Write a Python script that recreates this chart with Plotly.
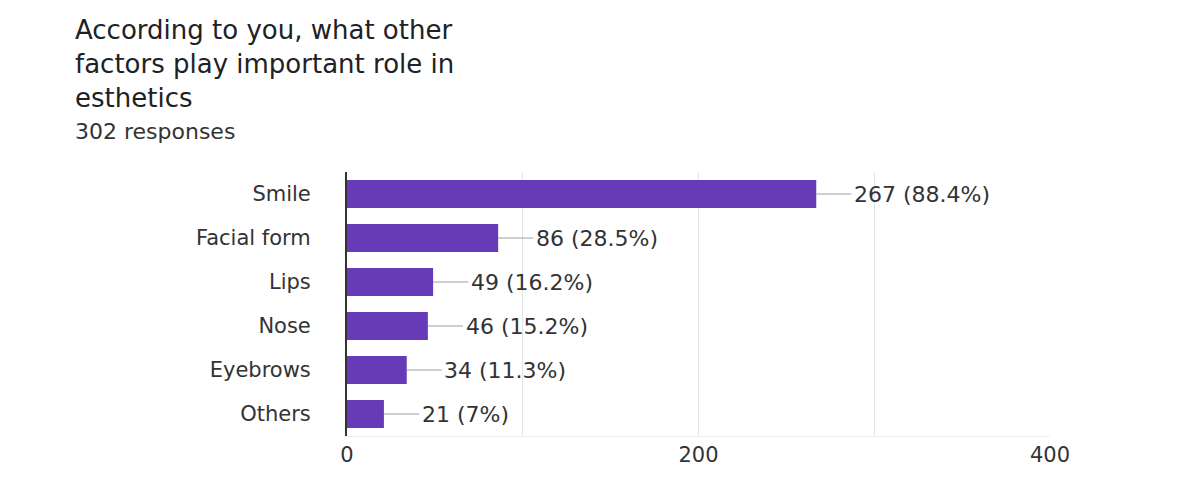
import plotly.graph_objects as go

categories = ["Smile", "Facial form", "Lips", "Nose", "Eyebrows", "Others"]
counts = [267, 86, 49, 46, 34, 21]
percent_labels = ["88.4%", "28.5%", "16.2%", "15.2%", "11.3%", "7%"]
title_lines = ["According to you, what other", "factors play important role in", "esthetics"]
subtitle = "302 responses"
tick_values = [0, 200, 400]

BAR_COLOR = "#673ab7"
TEXT_COLOR = "#333333"
FONT = "DejaVu Sans"

W, H = 1178, 496
OFF = 8  # page body margin
L, T = 347 - OFF, 172 - OFF
pw, ph = 703, 264
R, B = W - L - pw, H - T - ph


def px_x(x):
    return (x - OFF - L) / pw


def px_y(y):
    return 1 - (y - OFF - T) / ph


fig = go.Figure()
fig.add_trace(go.Bar(
    x=counts, y=categories, orientation="h",
    marker=dict(color=BAR_COLOR, line=dict(width=0)),
    width=0.64, hoverinfo="skip",
))

LEAD = 20  # leader-line length in data units
for cat, v, p in zip(categories, counts, percent_labels):
    fig.add_shape(type="line", xref="x", yref="y", x0=v, x1=v + LEAD, y0=cat, y1=cat,
                  line=dict(color="#9e9e9e", width=1))
    fig.add_annotation(x=v + LEAD + 0.3, y=cat, xref="x", yref="y", text=f"{v} ({p})",
                       showarrow=False, xanchor="left", yanchor="middle",
                       font=dict(family=FONT, size=22, color=TEXT_COLOR))

fig.add_annotation(x=px_x(73), y=px_y(64), xref="paper", yref="paper",
                   text="<br>".join(title_lines), align="left",
                   showarrow=False, xanchor="left", yanchor="middle",
                   font=dict(family=FONT, size=26, color="#202124"))
fig.add_annotation(x=px_x(73), y=px_y(131), xref="paper", yref="paper", text=subtitle,
                   showarrow=False, xanchor="left", yanchor="middle",
                   font=dict(family=FONT, size=22, color="#333333"))

fig.update_layout(
    width=W, height=H,
    margin=dict(l=L, r=R, t=T, b=B),
    paper_bgcolor="white", plot_bgcolor="white",
    showlegend=False,
)
fig.update_xaxes(
    range=[0, 400], tickvals=tick_values, ticktext=[str(t) for t in tick_values],
    showgrid=True, gridcolor="#e3e3e3", gridwidth=1,
    minor=dict(dtick=100, showgrid=True, gridcolor="#e3e3e3", gridwidth=1),
    zeroline=False, showline=True, linecolor="#eeeeee", linewidth=1,
    tickfont=dict(family=FONT, size=21, color=TEXT_COLOR), ticks="",
    fixedrange=True,
)
fig.update_yaxes(
    autorange="reversed", showgrid=False, zeroline=False,
    showline=True, linecolor="#333333", linewidth=2,
    tickfont=dict(family=FONT, size=21, color=TEXT_COLOR), ticks="",
    ticklabelstandoff=30, fixedrange=True,
)

fig.write_html("out.html")
